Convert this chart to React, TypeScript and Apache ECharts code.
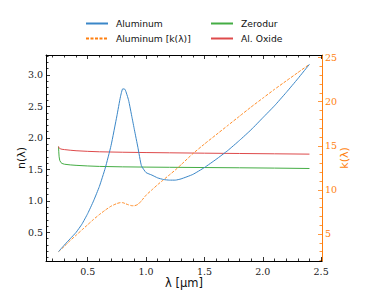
import React, { useEffect, useRef } from "react";
import * as echarts from "echarts";

const lambdaAl = [0.25,0.3,0.35,0.4,0.45,0.5,0.55,0.6,0.65,0.7,0.75,0.78,0.8,0.82,0.85,0.88,0.9,0.93,0.96,1.0,1.05,1.1,1.15,1.2,1.25,1.3,1.4,1.5,1.6,1.7,1.8,1.9,2.0,2.1,2.2,2.3,2.4];
const nAluminum = [0.195,0.30,0.40,0.50,0.63,0.80,1.0,1.23,1.52,1.88,2.35,2.65,2.78,2.77,2.6,2.32,2.13,1.85,1.56,1.45,1.41,1.365,1.34,1.33,1.33,1.35,1.42,1.53,1.66,1.8,1.96,2.13,2.32,2.51,2.72,2.94,3.17];
const kAluminum = [3.0,3.6,4.25,4.85,5.45,6.05,6.65,7.2,7.7,8.15,8.45,8.55,8.55,8.45,8.3,8.2,8.2,8.35,8.75,9.4,10.0,10.6,11.15,11.7,12.25,12.85,14.1,15.2,16.25,17.3,18.35,19.4,20.4,21.4,22.35,23.3,24.25];

const lambdaGlass = [0.25,0.252,0.255,0.26,0.27,0.28,0.3,0.35,0.4,0.5,0.6,0.8,1.0,1.2,1.5,1.8,2.1,2.4];
const nZerodur = [1.86,1.78,1.70,1.645,1.61,1.595,1.583,1.572,1.565,1.555,1.548,1.541,1.537,1.534,1.53,1.526,1.521,1.515];
const nAlOxide = [1.865,1.85,1.84,1.832,1.825,1.82,1.815,1.805,1.797,1.787,1.78,1.773,1.768,1.764,1.758,1.753,1.748,1.743];

const xMajor = [0.5, 1.0, 1.5, 2.0, 2.5];
const xMinor = [0.2,0.3,0.4,0.6,0.7,0.8,0.9,1.1,1.2,1.3,1.4,1.6,1.7,1.8,1.9,2.1,2.2,2.3,2.4];
const nMajor = [0.5, 1.0, 1.5, 2.0, 2.5, 3.0];
const nMinor = [0.1,0.2,0.3,0.4,0.6,0.7,0.8,0.9,1.1,1.2,1.3,1.4,1.6,1.7,1.8,1.9,2.1,2.2,2.3,2.4,2.6,2.7,2.8,2.9,3.1,3.2,3.3];
const kMajor = [5, 10, 15, 20, 25];
const kMinor = [2,3,4,6,7,8,9,11,12,13,14,16,17,18,19,21,22,23,24];

const names = ["Aluminum", "Aluminum [k(λ)]", "Zerodur", "Al. Oxide"];

const X_MIN = 0.1425, X_MAX = 2.5075;
const N_MIN = 0.046, N_MAX = 3.317;
const K_MIN = 1.93, K_MAX = 25.3;

const zip = (a: number[], b: number[]) => a.map((v, i) => [v, b[i]]);

export default function App() {
  const ref = useRef<HTMLDivElement>(null);
  useEffect(() => {
    if (!ref.current) return;
    const chart = echarts.init(ref.current, undefined, { renderer: "svg" });
    const serif = "DejaVu Serif";
    const sans = "DejaVu Sans";
    const black = "#000";
    const orange = "#ff7f0e";
    const blue = "#3a87c8";
    const green = "#44ad44";
    const red = "#de4a4b";
    const xAxisBase = (pos: string, ticks: number[], len: number, labels: boolean, line: boolean) => ({
      type: "value", position: pos, min: X_MIN, max: X_MAX,
      splitLine: { show: false },
      axisLine: { show: line, lineStyle: { color: black, width: 1 } },
      axisTick: { show: true, inside: true, length: len, customValues: ticks, lineStyle: { color: black, width: 0.8 } },
      axisLabel: labels
        ? { show: true, customValues: ticks, margin: 5, fontFamily: serif, fontSize: 9.5, color: "#222", formatter: (v: number) => v.toFixed(1) }
        : { show: false },
    });
    const yAxisBase = (pos: string, min: number, max: number, ticks: number[], len: number, labels: boolean, line: boolean, color: string, fmt: (v: number) => string) => ({
      type: "value", position: pos, min, max,
      splitLine: { show: false },
      axisLine: { show: line, onZero: false, lineStyle: { color, width: 1 } },
      axisTick: { show: true, inside: true, length: len, customValues: ticks, lineStyle: { color, width: 0.8 } },
      axisLabel: labels
        ? { show: true, customValues: ticks, margin: 3, fontFamily: serif, fontSize: 9.5, color: color === black ? "#222" : color, formatter: fmt }
        : { show: false },
    });
    const legendAt = (name: string, left: number, top: number) => ({
      data: [name], left, top, padding: 0, itemWidth: 22, itemHeight: 10,
      itemStyle: { opacity: 0 },
      textStyle: { fontFamily: sans, fontSize: 9.2, color: "#111", padding: [0, 0, 0, 3] },
    });
    chart.setOption({
      animation: false,
      backgroundColor: "#fff",
      grid: { left: 46, right: 44, top: 55, bottom: 44 },
      legend: [
        legendAt(names[0], 85, 19),
        legendAt(names[1], 85, 34),
        legendAt(names[2], 210, 19),
        legendAt(names[3], 210, 34),
      ],
      xAxis: [
        xAxisBase("bottom", xMajor, 4, true, true),
        xAxisBase("bottom", xMinor, 2.5, false, false),
        xAxisBase("top", xMajor, 4, false, true),
        xAxisBase("top", xMinor, 2.5, false, false),
      ],
      yAxis: [
        yAxisBase("left", N_MIN, N_MAX, nMajor, 4, true, true, black, (v) => v.toFixed(1)),
        yAxisBase("left", N_MIN, N_MAX, nMinor, 2.5, false, false, black, (v) => ""),
        yAxisBase("right", K_MIN, K_MAX, kMajor, 4, true, true, orange, (v) => String(v)),
        yAxisBase("right", K_MIN, K_MAX, kMinor, 2.5, false, false, orange, (v) => ""),
      ],
      series: [
        { name: names[0], type: "line", xAxisIndex: 0, yAxisIndex: 0, data: zip(lambdaAl, nAluminum), symbol: "none", smooth: 0.15, lineStyle: { color: blue, width: 1 }, itemStyle: { color: blue }, z: 5 },
        { name: names[1], type: "line", xAxisIndex: 0, yAxisIndex: 2, data: zip(lambdaAl, kAluminum), symbol: "none", smooth: 0.15, lineStyle: { color: orange, width: 0.9, type: [3, 1.5] }, itemStyle: { color: orange }, z: 4 },
        { name: names[2], type: "line", xAxisIndex: 0, yAxisIndex: 0, data: zip(lambdaGlass, nZerodur), symbol: "none", lineStyle: { color: green, width: 1 }, itemStyle: { color: green }, z: 3 },
        { name: names[3], type: "line", xAxisIndex: 0, yAxisIndex: 0, data: zip(lambdaGlass, nAlOxide), symbol: "none", lineStyle: { color: red, width: 1 }, itemStyle: { color: red }, z: 3 },
      ],
      graphic: [
        { type: "text", x: 21, y: 158, rotation: Math.PI / 2, style: { text: "n(λ)", fontFamily: sans, fontSize: 11, fill: "#111", align: "center", verticalAlign: "middle" } },
        { type: "text", x: 344, y: 158, rotation: Math.PI / 2, style: { text: "k(λ)", fontFamily: sans, fontSize: 11, fill: orange, align: "center", verticalAlign: "middle" } },
        { type: "text", x: 184, y: 283, style: { text: "λ [μm]", fontFamily: sans, fontSize: 11.5, fill: "#111", align: "center", verticalAlign: "middle" } },
      ],
    });
    return () => chart.dispose();
  }, []);
  return <div ref={ref} style={{ width: 366, height: 305, position: "absolute", left: 0, top: 0 }} />;
}
